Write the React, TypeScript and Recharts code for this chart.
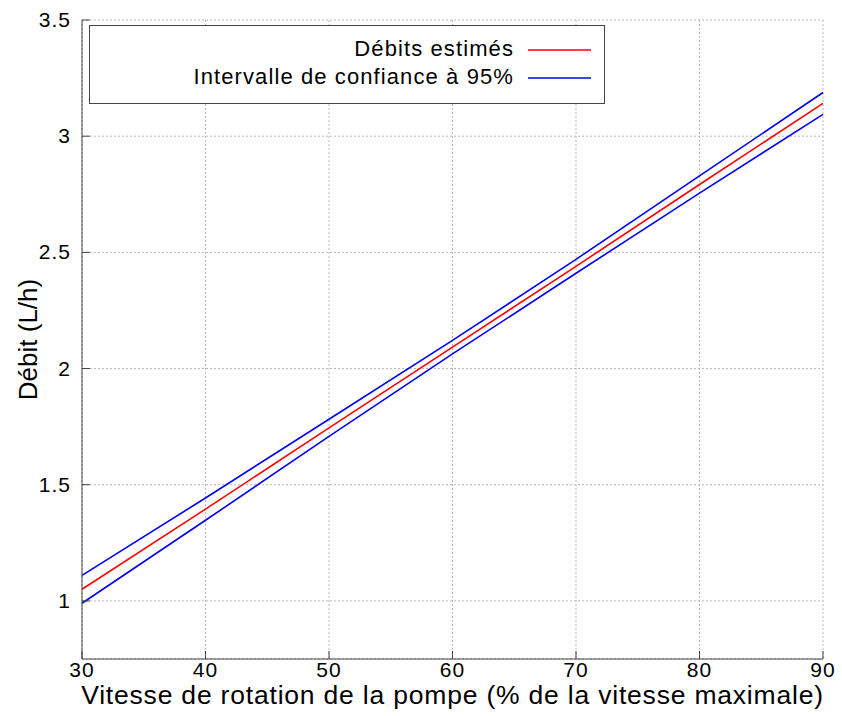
import React from 'react';
import { LineChart, Line, XAxis, YAxis, CartesianGrid } from 'recharts';

const xValues = [30, 40, 50, 60, 70, 80, 90];
const estimated = [1.05, 1.395, 1.745, 2.092, 2.44, 2.792, 3.141];
const upperBound = [1.11, 1.443, 1.782, 2.121, 2.47, 2.829, 3.188];
const lowerBound = [0.99, 1.347, 1.708, 2.063, 2.41, 2.755, 3.094];
const xTicks = [30, 40, 50, 60, 70, 80, 90];
const yTicks = [1, 1.5, 2, 2.5, 3, 3.5];
const seriesNames = ['Débits estimés', 'Intervalle de confiance à 95%'];
const seriesColors = ['#ff0000', '#0000ff'];
const xLabel = 'Vitesse de rotation de la pompe (% de la vitesse maximale)';
const yLabel = 'Débit (L/h)';

const data = xValues.map((x, i) => ({ x, est: estimated[i], up: upperBound[i], lo: lowerBound[i] }));

const FONT = '"Liberation Sans", Arial, sans-serif';
const FRAME = '#444';
const TICK_FS = 21;
const TICK_LS = 1;

const BottomTick = (p: any) => (
  <g>
    <line x1={p.x} y1={p.y} x2={p.x} y2={p.y - 8} stroke={FRAME} />
    <text x={p.x} y={p.y + 18} textAnchor="middle" fontSize={TICK_FS} letterSpacing={TICK_LS} fill="#000" fontFamily={FONT}>
      {p.payload.value}
    </text>
  </g>
);
const TopTick = (p: any) => (
  <line x1={p.x} y1={p.y} x2={p.x} y2={p.y + 8} stroke={FRAME} />
);
const LeftTick = (p: any) => (
  <g>
    <line x1={p.x} y1={p.y} x2={p.x + 8} y2={p.y} stroke={FRAME} />
    <text x={p.x - 11} y={p.y + 7} textAnchor="end" fontSize={TICK_FS} letterSpacing={TICK_LS} fill="#000" fontFamily={FONT}>
      {p.payload.value}
    </text>
  </g>
);
const RightTick = (p: any) => (
  <line x1={p.x} y1={p.y} x2={p.x - 8} y2={p.y} stroke={FRAME} />
);

export default function App() {
  return (
    <div style={{ position: 'absolute', left: 0, top: 0, width: 842, height: 716, background: '#fff' }}>
      <LineChart width={842} height={716} data={data} margin={{ top: 20, right: 19, bottom: 27, left: 22 }}>
        <CartesianGrid stroke="#b8b8b8" strokeDasharray="2 2" />
        <XAxis
          dataKey="x"
          type="number"
          domain={[30, 90]}
          ticks={xTicks}
          height={30}
          tickSize={0}
          tickMargin={0}
          tickLine={false}
          stroke={FRAME}
          tick={<BottomTick />}
          interval={0}
        />
        <XAxis
          xAxisId="t"
          orientation="top"
          dataKey="x"
          type="number"
          domain={[30, 90]}
          ticks={xTicks}
          height={0}
          tickSize={0}
          tickMargin={0}
          tickLine={false}
          stroke={FRAME}
          tick={<TopTick />}
          interval={0}
        />
        <YAxis
          type="number"
          domain={[0.75, 3.5]}
          ticks={yTicks}
          width={60}
          tickSize={0}
          tickMargin={0}
          tickLine={false}
          stroke={FRAME}
          tick={<LeftTick />}
          interval={0}
        />
        <YAxis
          yAxisId="r"
          orientation="right"
          type="number"
          domain={[0.75, 3.5]}
          ticks={yTicks}
          width={0}
          tickSize={0}
          tickMargin={0}
          tickLine={false}
          stroke={FRAME}
          tick={<RightTick />}
          interval={0}
        />
        <Line type="linear" dataKey="up" stroke={seriesColors[1]} strokeWidth={1.6} dot={false} isAnimationActive={false} />
        <Line type="linear" dataKey="lo" stroke={seriesColors[1]} strokeWidth={1.6} dot={false} isAnimationActive={false} />
        <Line type="linear" dataKey="est" stroke={seriesColors[0]} strokeWidth={1.6} dot={false} isAnimationActive={false} />
      </LineChart>
      <svg width={842} height={716} style={{ position: 'absolute', left: 0, top: 0, pointerEvents: 'none' }}>
        <rect x={89.5} y={25.5} width={515} height={78} fill="#fff" stroke={FRAME} />
        {seriesNames.map((name, i) => (
          <g key={name}>
            <text x={514} y={56 + i * 28} textAnchor="end" fontSize={22} letterSpacing={1.1} fill="#000" fontFamily={FONT}>
              {name}
            </text>
            <line x1={528} y1={50 + i * 28} x2={591} y2={50 + i * 28} stroke={seriesColors[i]} strokeWidth={1.5} />
          </g>
        ))}
        <text x={452.5} y={704} textAnchor="middle" fontSize={26.5} letterSpacing={0.8} fill="#000" fontFamily={FONT}>
          {xLabel}
        </text>
        <text x={0} y={0} transform="translate(37 339.5) rotate(-90)" textAnchor="middle" fontSize={26} fill="#000" fontFamily={FONT}>
          {yLabel}
        </text>
      </svg>
    </div>
  );
}
